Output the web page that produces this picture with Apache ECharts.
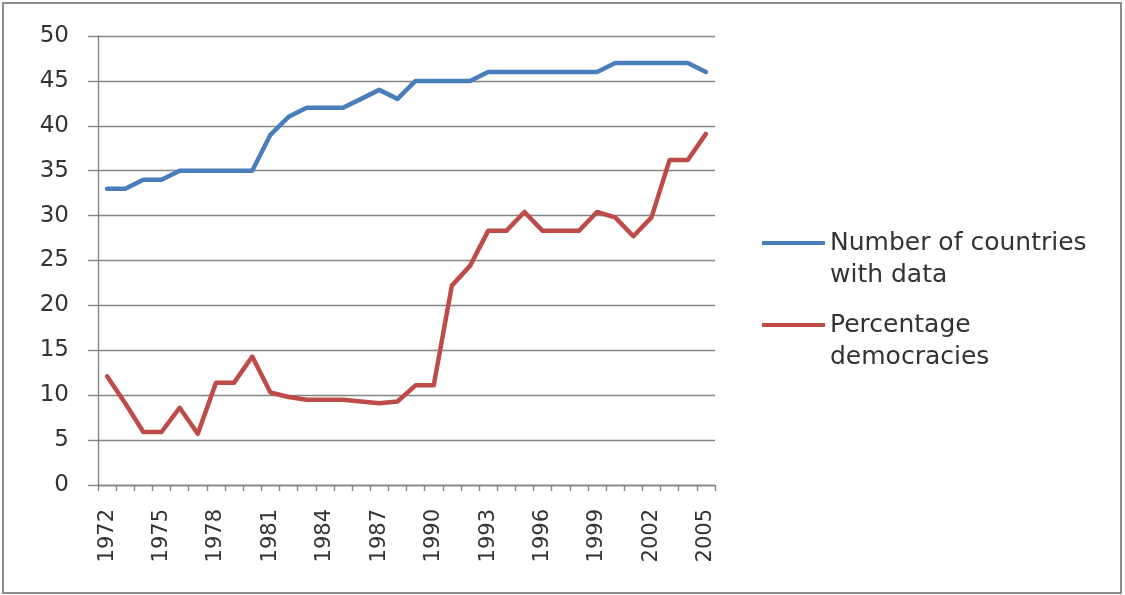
<!DOCTYPE html>
<html>
<head>
<meta charset="utf-8">
<script src="https://cdn.jsdelivr.net/npm/echarts@6/dist/echarts.min.js"></script>
<style>
  html, body { margin: 0; padding: 0; background: #ffffff; }
  #frame { position: absolute; left: 2px; top: 2px; width: 1120px; height: 592px; box-sizing: border-box; border: 2px solid #8c8c8c; }
  #chart { position: absolute; left: 0; top: 0; width: 1125px; height: 595px; }
</style>
</head>
<body>
<div id="frame"></div>
<div id="chart"></div>
<script>
const years = ['1972','1973','1974','1975','1976','1977','1978','1979','1980','1981','1982','1983','1984','1985','1986','1987','1988','1989','1990','1991','1992','1993','1994','1995','1996','1997','1998','1999','2000','2001','2002','2003','2004','2005'];
const countriesWithData = [33,33,34,34,35,35,35,35,35,39,41,42,42,42,43,44,43,45,45,45,45,46,46,46,46,46,46,46,47,47,47,47,47,46];
const pctDemocracies = [12.1,9.1,5.9,5.9,8.6,5.7,11.4,11.4,14.3,10.3,9.8,9.5,9.5,9.5,9.3,9.1,9.3,11.1,11.1,22.2,24.4,28.3,28.3,30.4,28.3,28.3,28.3,30.4,29.8,27.7,29.8,36.2,36.2,39.1];
const yTicks = [0,5,10,15,20,25,30,35,40,45,50];
const seriesNames = ['Number of countries with data', 'Percentage democracies'];
const legendLabels = {
  'Number of countries with data': 'Number of countries\nwith data',
  'Percentage democracies': 'Percentage\ndemocracies'
};

const FONT = 'DejaVu Sans';
const TEXT = '#333333';
const GRID = '#858585';

const legendBase = {
  orient: 'vertical',
  left: 762,
  padding: 0,
  icon: 'rect',
  itemWidth: 63,
  itemHeight: 4,
  textStyle: { fontFamily: FONT, fontSize: 25, color: TEXT, lineHeight: 32 },
  formatter: name => '\n' + legendLabels[name]
};

const chart = echarts.init(document.getElementById('chart'), null, { renderer: 'canvas' });
chart.setOption({
  backgroundColor: 'transparent',
  animation: false,
  grid: { left: 98, right: 410, top: 36, bottom: 110, containLabel: false },
  legend: [
    Object.assign({}, legendBase, { top: 195, data: [seriesNames[0]] }),
    Object.assign({}, legendBase, { top: 277, data: [seriesNames[1]] })
  ],
  xAxis: {
    type: 'category',
    data: years,
    boundaryGap: true,
    axisLine: { show: true, lineStyle: { color: GRID, width: 1.4 } },
    axisTick: { show: true, alignWithLabel: false, interval: 0, length: 6, lineStyle: { color: GRID, width: 1.4 } },
    axisLabel: { interval: 2, rotate: 90, margin: 24, fontFamily: FONT, fontSize: 21, color: TEXT },
    splitLine: { show: false }
  },
  yAxis: {
    type: 'value',
    min: yTicks[0],
    max: yTicks[yTicks.length - 1],
    interval: 5,
    axisLine: { show: true, lineStyle: { color: GRID, width: 1.4 } },
    axisTick: { show: true, inside: false, length: 10, lineStyle: { color: GRID, width: 1.4 } },
    axisLabel: { margin: 29, fontFamily: FONT, fontSize: 23, color: TEXT },
    splitLine: { show: true, lineStyle: { color: GRID, width: 1.4 } }
  },
  series: [
    {
      name: seriesNames[0],
      type: 'line',
      data: countriesWithData,
      showSymbol: false,
      symbol: 'none',
      color: '#4a7ebb',
      lineStyle: { width: 4.5, color: '#4a7ebb', join: 'round', cap: 'round' }
    },
    {
      name: seriesNames[1],
      type: 'line',
      data: pctDemocracies,
      showSymbol: false,
      symbol: 'none',
      color: '#be4b48',
      lineStyle: { width: 4.5, color: '#be4b48', join: 'round', cap: 'round' }
    }
  ]
});
</script>
</body>
</html>
